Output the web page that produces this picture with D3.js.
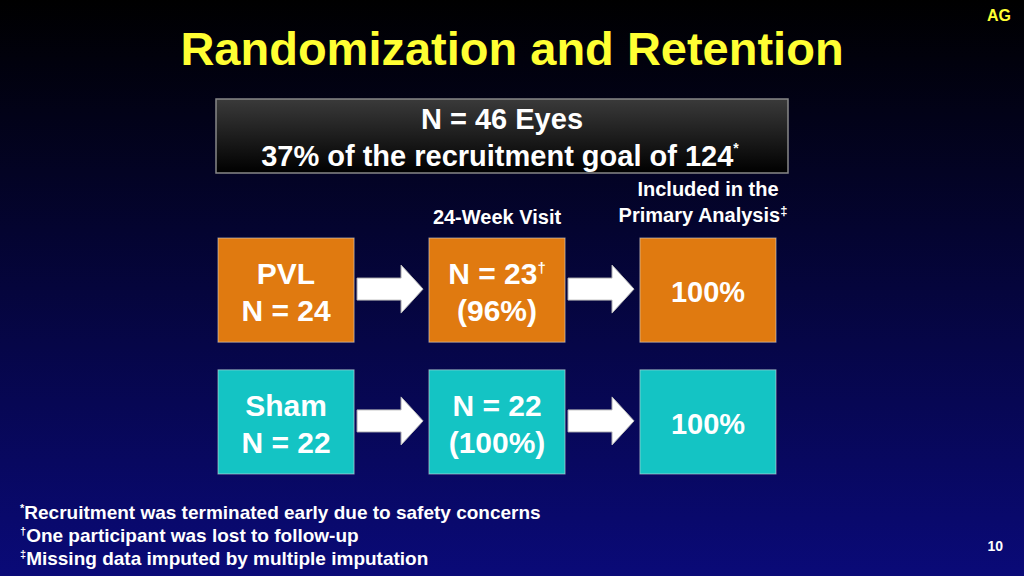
<!DOCTYPE html>
<html><head><meta charset="utf-8">
<script src="https://cdn.jsdelivr.net/npm/d3@7"></script>
<style>body{margin:0;background:#000}svg{display:block;font-family:"Liberation Sans",Arial,sans-serif;font-weight:bold}</style>
</head><body>
<script>
var width = 1024, height = 576;

// rows of the flow diagram
var groups = ["PVL", "Sham"];
var enrolled = [24, 22];
var visit24 = [23, 22];
var visitPct = ["96%", "100%"];
var visitMark = ["\u2020", ""];
var analysed = ["100%", "100%"];
var rowColors = ["#e07a10", "#14c4c4"];
var footnotes = [
  ["*", "Recruitment was terminated early due to safety concerns"],
  ["\u2020", "One participant was lost to follow-up"],
  ["\u2021", "Missing data imputed by multiple imputation"]
];

var svg = d3.select("body").append("svg").attr("width", width).attr("height", height);
var defs = svg.append("defs");

var bg = defs.append("linearGradient").attr("id", "bg").attr("x1", 0).attr("y1", 0).attr("x2", 0).attr("y2", 1);
bg.append("stop").attr("offset", "0%").attr("stop-color", "#000000");
bg.append("stop").attr("offset", "100%").attr("stop-color", "#0a0a78");
svg.append("rect").attr("width", width).attr("height", height).attr("fill", "url(#bg)");

var hb = defs.append("linearGradient").attr("id", "hb").attr("x1", 0).attr("y1", 0).attr("x2", 0).attr("y2", 1);
hb.append("stop").attr("offset", "0%").attr("stop-color", "#3a3a3a");
hb.append("stop").attr("offset", "100%").attr("stop-color", "#000");

svg.append("text").attr("x", 1011).attr("y", 21).attr("text-anchor", "end")
  .attr("fill", "#ffff33").attr("font-size", 16).text("AG");
svg.append("text").attr("x", 512).attr("y", 65).attr("text-anchor", "middle")
  .attr("fill", "#ffff33").attr("font-size", 47).text("Randomization and Retention");

// header box
svg.append("rect").attr("x", 216).attr("y", 99).attr("width", 572).attr("height", 74)
  .attr("fill", "url(#hb)").attr("stroke", "#888").attr("stroke-width", 1.5);
svg.append("text").attr("x", 502).attr("y", 129).attr("text-anchor", "middle")
  .attr("fill", "#fff").attr("font-size", 29).text("N = 46 Eyes");
var t2 = svg.append("text").attr("x", 500).attr("y", 166).attr("text-anchor", "middle")
  .attr("fill", "#fff").attr("font-size", 29);
t2.append("tspan").text("37% of the recruitment goal of 124");
t2.append("tspan").attr("dy", -13).attr("font-size", 14).text("*");

var cols = d3.scaleBand().domain([0, 1, 2]).range([218, 776]).paddingInner(0.355);
var rows = d3.scaleBand().domain([0, 1]).range([238, 474]).paddingInner(0.21);

svg.append("text").attr("x", cols(1) + cols.bandwidth() / 2).attr("y", 224).attr("text-anchor", "middle")
  .attr("fill", "#fff").attr("font-size", 20).text("24-Week Visit");
svg.append("text").attr("x", 708).attr("y", 196).attr("text-anchor", "middle")
  .attr("fill", "#fff").attr("font-size", 20).text("Included in the");
var pa = svg.append("text").attr("x", 703).attr("y", 222).attr("text-anchor", "middle")
  .attr("fill", "#fff").attr("font-size", 20);
pa.append("tspan").text("Primary Analysis");
pa.append("tspan").attr("dy", -7).attr("font-size", 13).text("\u2021");

groups.forEach(function(g, i) {
  var y = rows(i), h = rows.bandwidth(), w = cols.bandwidth();
  var lines = [
    [[g], ["N = " + enrolled[i]]],
    [["N = " + visit24[i], visitMark[i]], ["(" + visitPct[i] + ")"]],
    [[analysed[i]]]
  ];
  [0, 1, 2].forEach(function(c) {
    svg.append("rect").attr("x", cols(c)).attr("y", y).attr("width", w).attr("height", h)
      .attr("fill", rowColors[i]).attr("stroke", "#d8d8d8").attr("stroke-opacity", 0.6);
    var cx = cols(c) + w / 2;
    if (c === 2) {
      svg.append("text").attr("x", cx).attr("y", y + 64).attr("text-anchor", "middle")
        .attr("fill", "#fff").attr("font-size", 29).text(lines[c][0][0]);
    } else {
      lines[c].forEach(function(l, k) {
        var t = svg.append("text").attr("x", cx).attr("y", y + 46 + k * 37).attr("text-anchor", "middle")
          .attr("fill", "#fff").attr("font-size", 30);
        t.append("tspan").text(l[0]);
        if (l[1]) t.append("tspan").attr("dy", -11).attr("font-size", 15).text(l[1]);
      });
    }
    if (c < 2) {
      var ax = cols(c) + w + 3, ay = y + h / 2 - 1;
      svg.append("path")
        .attr("d", "M" + ax + "," + (ay - 11) + "h44v-13l22,24l-22,24v-13h-44z")
        .attr("fill", "#fff").attr("stroke", "#bbb");
    }
  });
});

footnotes.forEach(function(f, i) {
  var t = svg.append("text").attr("x", 20).attr("y", 519 + i * 23).attr("fill", "#fff").attr("font-size", 19);
  t.append("tspan").attr("dy", -7).attr("font-size", 11).text(f[0]);
  t.append("tspan").attr("dy", 7).text(f[1]);
});
svg.append("text").attr("x", 1003).attr("y", 551).attr("text-anchor", "end")
  .attr("fill", "#fff").attr("font-size", 14).text("10");
</script>
</body></html>
